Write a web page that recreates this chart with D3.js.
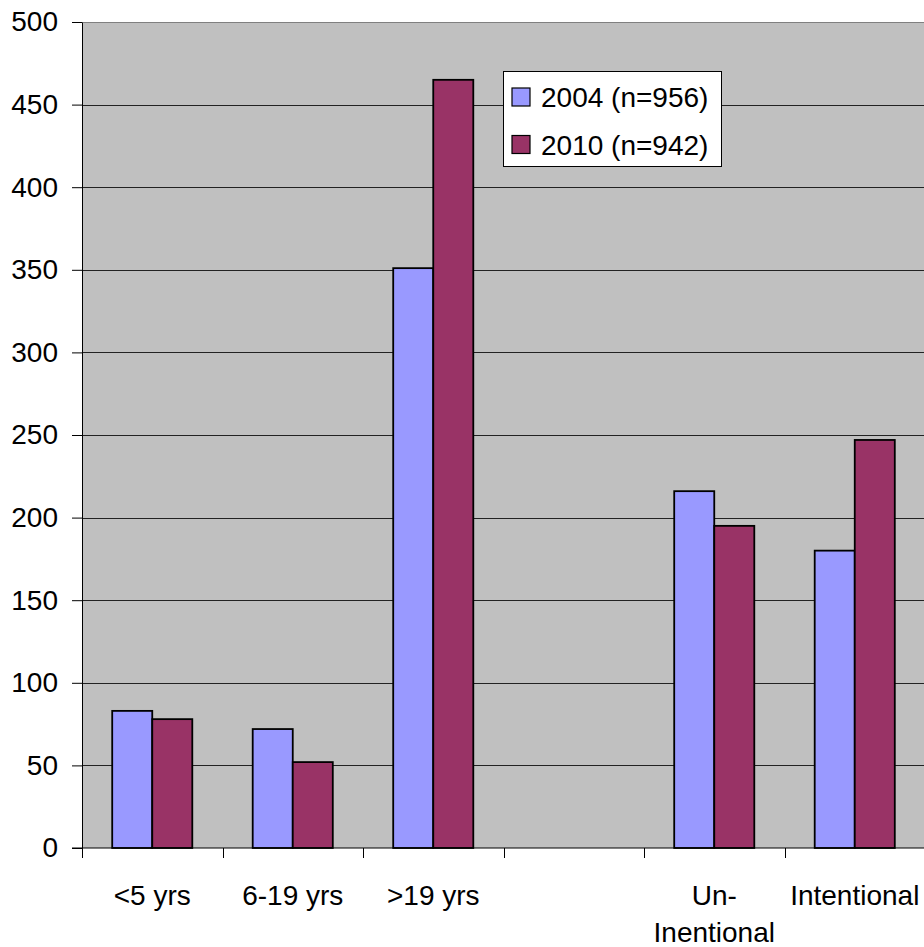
<!DOCTYPE html>
<html>
<head>
<meta charset="utf-8">
<script src="https://cdn.jsdelivr.net/npm/d3@7"></script>
<style>
  body { margin: 0; background: #fff; }
  svg { display: block; font-family: "Liberation Sans", Arial, sans-serif; }
</style>
</head>
<body>
<div id="chart"></div>
<script>
// data
const categories = ['<5 yrs', '6-19 yrs', '>19 yrs', '', 'Un-\nInentional', 'Intentional'];
const seriesNames = ['2004 (n=956)', '2010 (n=942)'];
const values2004 = [83, 72, 351, null, 216, 180];
const values2010 = [78, 52, 465, null, 195, 247];
const yTicks = [0, 50, 100, 150, 200, 250, 300, 350, 400, 450, 500];
const colors = ['#9999ff', '#993366'];

const width = 924, height = 947;
const margin = { left: 82, right: -1, top: 22, bottom: 99 };
const plotW = width - margin.left - margin.right;
const plotH = height - margin.top - margin.bottom;

const svg = d3.select('#chart').append('svg')
    .attr('width', width)
    .attr('height', height);

const g = svg.append('g')
    .attr('transform', `translate(${margin.left},${margin.top})`);

const x = d3.scaleBand()
    .domain(d3.range(categories.length))
    .range([0, plotW]);

const barW = x.bandwidth() * 0.285;
const x1 = d3.scaleBand()
    .domain(seriesNames)
    .range([x.bandwidth() / 2 - barW, x.bandwidth() / 2 + barW]);

const y = d3.scaleLinear()
    .domain([0, 500])
    .range([plotH, 0]);

// plot background
g.append('rect')
    .attr('width', plotW)
    .attr('height', plotH)
    .attr('fill', '#c0c0c0');

// gridlines
g.selectAll('.grid')
    .data(yTicks.filter(d => d > 0))
    .enter().append('line')
    .attr('x1', 0)
    .attr('x2', plotW)
    .attr('y1', d => Math.round(y(d)) + 0.5)
    .attr('y2', d => Math.round(y(d)) + 0.5)
    .attr('stroke', d => d === 500 ? '#808080' : '#222')
    .attr('stroke-width', 1);

// bars
const rows = categories.map((c, i) => ({ i, vals: [values2004[i], values2010[i]] }));
const groups = g.selectAll('.grp')
    .data(rows)
    .enter().append('g')
    .attr('transform', d => `translate(${x(d.i)},0)`);

groups.selectAll('rect')
    .data(d => d.vals.map((v, k) => ({ k, v })).filter(e => e.v != null))
    .enter().append('rect')
    .attr('x', e => x1(seriesNames[e.k]))
    .attr('width', x1.bandwidth())
    .attr('y', e => y(e.v))
    .attr('height', e => plotH - y(e.v))
    .attr('fill', e => colors[e.k])
    .attr('stroke', '#000')
    .attr('stroke-width', 1.8);

// y axis
const yAxis = g.append('g')
    .call(d3.axisLeft(y).tickValues(yTicks).tickSize(10).tickPadding(14).tickSizeOuter(0));
yAxis.select('.domain').attr('stroke', '#000');
yAxis.selectAll('.tick line').attr('stroke', '#000');
yAxis.selectAll('.tick text')
    .attr('font-size', 28)
    .attr('fill', '#000')
    .attr('font-family', '"Liberation Sans", Arial, sans-serif');

// x axis
const xAxis = g.append('g')
    .attr('transform', `translate(0,${plotH})`);
xAxis.append('line')
    .attr('x1', -10).attr('x2', plotW)
    .attr('stroke', '#000');
xAxis.selectAll('.xt')
    .data(d3.range(categories.length))
    .enter().append('line')
    .attr('x1', d => Math.round(x(d)) + 0.5)
    .attr('x2', d => Math.round(x(d)) + 0.5)
    .attr('y1', 0).attr('y2', 10)
    .attr('stroke', '#000');

const labels = xAxis.selectAll('.xl')
    .data(categories)
    .enter().append('text')
    .attr('text-anchor', 'middle')
    .attr('font-size', 28)
    .attr('fill', '#000')
    .attr('transform', (d, i) => `translate(${x(i) + x.bandwidth() / 2},57)`);
labels.selectAll('tspan')
    .data(d => d.split('\n'))
    .enter().append('tspan')
    .attr('x', 0)
    .attr('y', (d, i) => i * 37)
    .text(d => d);

// legend
const legend = svg.append('g').attr('transform', 'translate(503,71)');
legend.append('rect')
    .attr('x', 0.5).attr('y', 0.5)
    .attr('width', 218).attr('height', 95)
    .attr('fill', '#fff')
    .attr('stroke', '#000');
const items = legend.selectAll('.item')
    .data(seriesNames)
    .enter().append('g')
    .attr('transform', (d, i) => `translate(0,${i * 47.5})`);
items.append('rect')
    .attr('x', 9).attr('y', 17)
    .attr('width', 18).attr('height', 18)
    .attr('fill', (d, i) => colors[i])
    .attr('stroke', '#000')
    .attr('stroke-width', 1.2);
items.append('text')
    .attr('x', 38).attr('y', 36)
    .attr('font-size', 28)
    .attr('fill', '#000')
    .text(d => d);
</script>
</body>
</html>
